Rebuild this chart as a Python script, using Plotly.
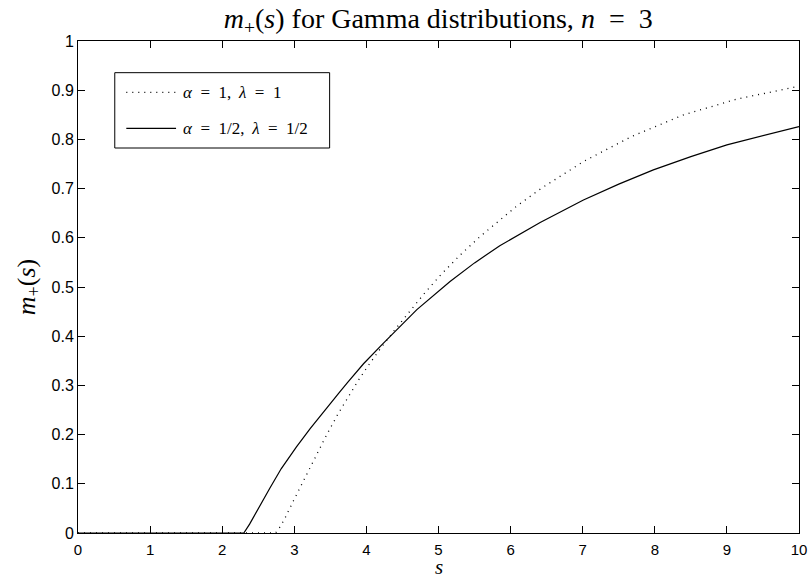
import plotly.graph_objects as go

# m_+(s) curves for two Gamma parameter choices, n = 3
s_a1 = [0, 2.74, 2.81, 2.87, 2.99, 3.15, 3.28, 3.45, 3.61, 3.77, 3.90, 4.01,
        4.20, 4.40, 4.59, 4.81, 5.02, 5.30, 5.58, 5.90, 6.09, 6.43, 7.01,
        7.68, 8.40, 9.14, 9.88, 10.0]
m_a1 = [0, 0, 0.014, 0.030, 0.066, 0.113, 0.152, 0.200, 0.243, 0.283, 0.313,
        0.337, 0.376, 0.414, 0.449, 0.488, 0.523, 0.565, 0.603, 0.643, 0.665,
        0.701, 0.755, 0.806, 0.850, 0.882, 0.904, 0.908]

s_half = [0, 2.30, 2.38, 2.50, 2.66, 2.82, 3.03, 3.22, 3.45, 3.62, 3.74,
          3.96, 4.23, 4.47, 4.70, 5.16, 5.50, 5.85, 6.41, 7.01, 7.50, 7.98,
          8.50, 9.00, 9.50, 10.0]
m_half = [0, 0, 0.018, 0.050, 0.091, 0.131, 0.175, 0.212, 0.255, 0.285,
          0.306, 0.344, 0.385, 0.421, 0.454, 0.511, 0.549, 0.584, 0.631,
          0.677, 0.709, 0.738, 0.765, 0.789, 0.808, 0.826]

EN = "\u2002"
TH = "\u2009"
legend_labels = [f"<i>α</i>{EN}={EN}1,{TH} <i>λ</i>{EN}={EN}1",
                 f"<i>α</i>{EN}={EN}1/2,{TH} <i>λ</i>{EN}={EN}1/2"]
title_text = (f"<i>m</i><sub>+</sub>(<i>s</i>) for Gamma distributions, "
              f"<i>n</i>{EN}={EN}3")
x_title = "<i>s</i>"
y_title = "<i>m</i><sub>+</sub>(<i>s</i>)"

x_ticks = list(range(0, 11))
y_ticks = [0, 0.1, 0.2, 0.3, 0.4, 0.5, 0.6, 0.7, 0.8, 0.9, 1]
y_ticktext = ["0", "0.1", "0.2", "0.3", "0.4", "0.5", "0.6", "0.7", "0.8",
              "0.9", "1"]

serif = "Liberation Serif, Times New Roman, serif"
sans = "Liberation Sans, Arial, sans-serif"

dot_dash = "1px,5px"

fig = go.Figure()
fig.add_trace(go.Scatter(x=s_a1, y=m_a1, mode="lines", name=legend_labels[0],
                         line=dict(color="black", width=1.3, dash=dot_dash),
                         showlegend=False))
fig.add_trace(go.Scatter(x=s_half, y=m_half, mode="lines",
                         name=legend_labels[1],
                         line=dict(color="black", width=1.2),
                         showlegend=False))

# boxed legend in the upper-left corner of the axes
box = dict(x0=0.051, x1=0.349, y0=0.7825, y1=0.9356)
fig.add_shape(type="rect", xref="paper", yref="paper", **box,
              line=dict(color="black", width=1), fillcolor="white", layer="above")
rows = [(0.8956, dot_dash, 1.3), (0.8225, "solid", 1.2)]
for (yy, dash, w), label in zip(rows, legend_labels):
    fig.add_shape(type="line", xref="paper", yref="paper",
                  x0=0.067, x1=0.136, y0=yy, y1=yy, layer="above",
                  line=dict(color="black", width=w, dash=dash))
    fig.add_annotation(xref="paper", yref="paper", x=0.143, y=yy,
                       text=label, showarrow=False, xanchor="left",
                       yanchor="middle",
                       font=dict(family=serif, size=17, color="black"))

# x-axis label sits just under the tick labels
fig.add_annotation(xref="paper", yref="paper", x=0.5, y=-0.07,
                   text=x_title, showarrow=False, xanchor="center",
                   yanchor="middle",
                   font=dict(family=serif, size=21, color="black"))

axis_common = dict(showline=True, linecolor="black", linewidth=1,
                   mirror="ticks", ticks="inside", ticklen=7,
                   tickcolor="black", showgrid=False, zeroline=False,
                   automargin=False)

fig.update_layout(
    width=810, height=579,
    margin=dict(l=78, r=11, t=41, b=46),
    paper_bgcolor="white", plot_bgcolor="white",
    title=dict(text=title_text,
               x=0.541, xanchor="center", y=0.968, yanchor="middle",
               font=dict(family=serif, size=28, color="black")),
    xaxis=dict(range=[0, 10], tickvals=x_ticks, ticklabelstandoff=3,
               tickfont=dict(family=sans, size=15, color="black"),
               **axis_common),
    yaxis=dict(range=[0, 1], tickvals=y_ticks, ticktext=y_ticktext,
               tickfont=dict(family=sans, size=16, color="black"),
               title=dict(text=y_title, standoff=8,
                          font=dict(family=serif, size=26, color="black")),
               **axis_common),
)

fig.write_html("out.html")
